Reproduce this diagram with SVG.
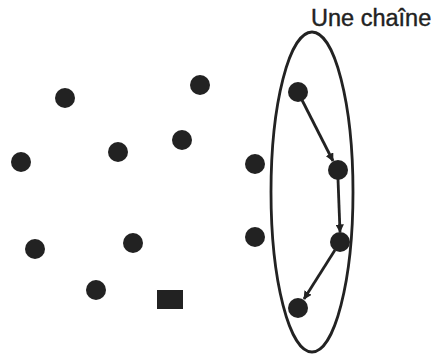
<svg xmlns="http://www.w3.org/2000/svg" width="435" height="355" viewBox="0 0 435 355">
<style>
.n{fill:#222}
.e{stroke:#222;stroke-width:2.8;fill:none}
.t{font-family:"Liberation Sans",Arial,sans-serif;font-size:23.5px;fill:#222;stroke:#222;stroke-width:0.4}
</style>
<defs>
<marker id="ah" viewBox="0 0 10 10" refX="9" refY="5" markerWidth="3" markerHeight="3" orient="auto" markerUnits="strokeWidth">
<path d="M0,0 L10,5 L0,10 z" fill="#222"/>
</marker>
</defs>
<rect width="435" height="355" fill="#fff"/>
<g id="chain-label"><text class="t" x="311" y="26">Une chaîne</text></g>
<g id="chain-ellipse"><ellipse cx="312" cy="192" rx="41" ry="160" fill="none" stroke="#222" stroke-width="2.8"/></g>
<g id="n1"><circle class="n" cx="65" cy="98" r="10"/></g>
<g id="n2"><circle class="n" cx="200" cy="85" r="10"/></g>
<g id="n3"><circle class="n" cx="21" cy="162" r="10"/></g>
<g id="n4"><circle class="n" cx="118" cy="152" r="10"/></g>
<g id="n5"><circle class="n" cx="182" cy="140" r="10"/></g>
<g id="n6"><circle class="n" cx="35" cy="249" r="10"/></g>
<g id="n7"><circle class="n" cx="133" cy="243" r="10"/></g>
<g id="n8"><circle class="n" cx="96" cy="290" r="10"/></g>
<g id="n9"><rect class="n" x="157" y="290" width="26" height="19"/></g>
<g id="n10"><circle class="n" cx="255" cy="164" r="10"/></g>
<g id="n11"><circle class="n" cx="255" cy="237" r="10"/></g>
<g id="c1"><circle class="n" cx="298" cy="92" r="10"/></g>
<g id="c2"><circle class="n" cx="338" cy="170" r="10"/></g>
<g id="c3"><circle class="n" cx="340" cy="242" r="10"/></g>
<g id="c4"><circle class="n" cx="298" cy="308" r="10"/></g>
<g id="connectors">
<line class="e" x1="302" y1="100" x2="333" y2="161" marker-end="url(#ah)"/>
<line class="e" x1="338" y1="179" x2="340" y2="232" marker-end="url(#ah)"/>
<line class="e" x1="335" y1="250" x2="304" y2="299" marker-end="url(#ah)"/>
</g>
</svg>
